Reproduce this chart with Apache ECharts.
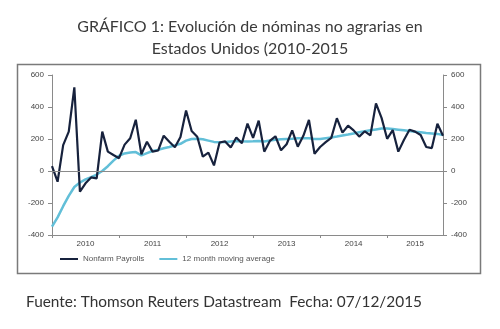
<!DOCTYPE html>
<html>
<head>
<meta charset="utf-8">
<script src="https://cdn.jsdelivr.net/npm/echarts@6/dist/echarts.min.js"></script>
<style>
html,body{margin:0;padding:0;background:#fff;}
#c{width:500px;height:329px;}
</style>
</head>
<body>
<div id="c"></div>
<script>
// Monthly categories Jan 2010 .. Nov 2015
const years = [2010, 2011, 2012, 2013, 2014, 2015];
const months = [];
years.forEach(y => { for (let m = 1; m <= 12; m++) { if (y === 2015 && m > 11) break; months.push(y + '-' + (m < 10 ? '0' + m : m)); } });

const nonfarmPayrolls = [
  30, -67, 162, 246, 523, -129, -77, -40, -46, 246, 121, 100,
  80, 165, 205, 320, 105, 183, 121, 128, 221, 183, 148, 212,
  378, 250, 214, 90, 115, 35, 178, 185, 147, 209, 173, 296,
  207, 315, 121, 188, 217, 129, 167, 254, 152, 220, 319, 108,
  150, 180, 207, 330, 240, 283, 254, 215, 248, 223, 423, 332,
  201, 256, 121, 194, 258, 246, 225, 150, 143, 295, 220
];
const movingAverage12 = [
  -348, -290, -220, -155, -100, -72, -52, -38, -22, 0, 30, 65,
  95, 110, 115, 118, 98, 112, 125, 132, 142, 150, 160, 170,
  190, 200, 202, 198, 190, 182, 180, 182, 185, 188, 186, 185,
  186, 188, 185, 190, 195, 198, 200, 202, 205, 204, 205, 200,
  200, 205, 210, 215, 222, 228, 235, 242, 248, 255, 260, 265,
  265, 262, 258, 254, 250, 246, 242, 238, 235, 232, 225
];
const yTicks = [-400, -200, 0, 200, 400, 600];
const titleLines = ['GRÁFICO 1: Evolución de nóminas no agrarias en', 'Estados Unidos (2010-2015'];
const footer = 'Fuente: Thomson Reuters Datastream  Fecha: 07/12/2015';
const seriesNames = ['Nonfarm Payrolls', '12 month moving average'];

const chart = echarts.init(document.getElementById('c'), null, {renderer: 'canvas'});
const axisGray = '#8a8a8a';
const labelStyle = {fontFamily: 'Liberation Sans', fontSize: 8, color: '#444'};
const yAxisCommon = {
  type: 'value', min: yTicks[0], max: yTicks[yTicks.length - 1], interval: 200,
  splitLine: {show: false},
  axisLine: {show: true, lineStyle: {color: axisGray, width: 1}},
  axisTick: {show: true, length: 4, lineStyle: {color: axisGray}},
  axisLabel: Object.assign({margin: 8}, labelStyle)
};
chart.setOption({
  animation: false,
  backgroundColor: '#fff',
  title: [
    {text: titleLines[0], left: 'center', top: 14, textStyle: {fontFamily: 'Lato', fontWeight: 'normal', fontSize: 16, color: '#3a3a3a'}},
    {text: titleLines[1], left: 'center', top: 36, textStyle: {fontFamily: 'Lato', fontWeight: 'normal', fontSize: 16, color: '#3a3a3a'}},
    {text: footer, left: 21, top: 290, textStyle: {fontFamily: 'Lato', fontWeight: 'normal', fontSize: 15.4, color: '#333'}}
  ],
  graphic: [{
    type: 'rect', shape: {x: 17.5, y: 64.5, width: 463, height: 209},
    style: {fill: 'none', stroke: '#7a7a7a', lineWidth: 1.5}, silent: true, z: -1
  }],
  legend: {
    left: 55, top: 250, itemWidth: 18, itemHeight: 2, itemGap: 15, icon: 'rect',
    textStyle: {fontFamily: 'Liberation Sans', fontSize: 8, color: '#555'},
    data: seriesNames
  },
  grid: {left: 52, right: 57, top: 75, bottom: 94, containLabel: false},
  xAxis: {
    type: 'category', data: months, boundaryGap: false,
    axisLine: {show: true, onZero: false, lineStyle: {color: axisGray}},
    axisTick: {show: true, length: 3, interval: (i) => i % 12 === 0, lineStyle: {color: axisGray}},
    axisLabel: Object.assign({
      margin: 5,
      interval: (i) => (i % 12 === 6 && i < 60) || i === 65,
      formatter: (v) => v.slice(0, 4)
    }, labelStyle),
    splitLine: {show: false}
  },
  yAxis: [
    Object.assign({position: 'left'}, yAxisCommon),
    Object.assign({position: 'right'}, yAxisCommon)
  ],
  series: [
    {
      name: seriesNames[0], type: 'line', data: nonfarmPayrolls, symbol: 'none', showSymbol: false,
      lineStyle: {color: '#17223d', width: 2.2}, itemStyle: {color: '#17223d'}, z: 3
    },
    {
      name: seriesNames[1], type: 'line', data: movingAverage12, symbol: 'none', showSymbol: false,
      lineStyle: {color: '#62bfd8', width: 2.5}, itemStyle: {color: '#62bfd8'}, z: 2,
      markLine: {
        silent: true, symbol: 'none', label: {show: false},
        lineStyle: {color: '#8a8a8a', type: 'solid', width: 1},
        data: [{yAxis: 0}]
      }
    }
  ]
});
</script>
</body>
</html>
